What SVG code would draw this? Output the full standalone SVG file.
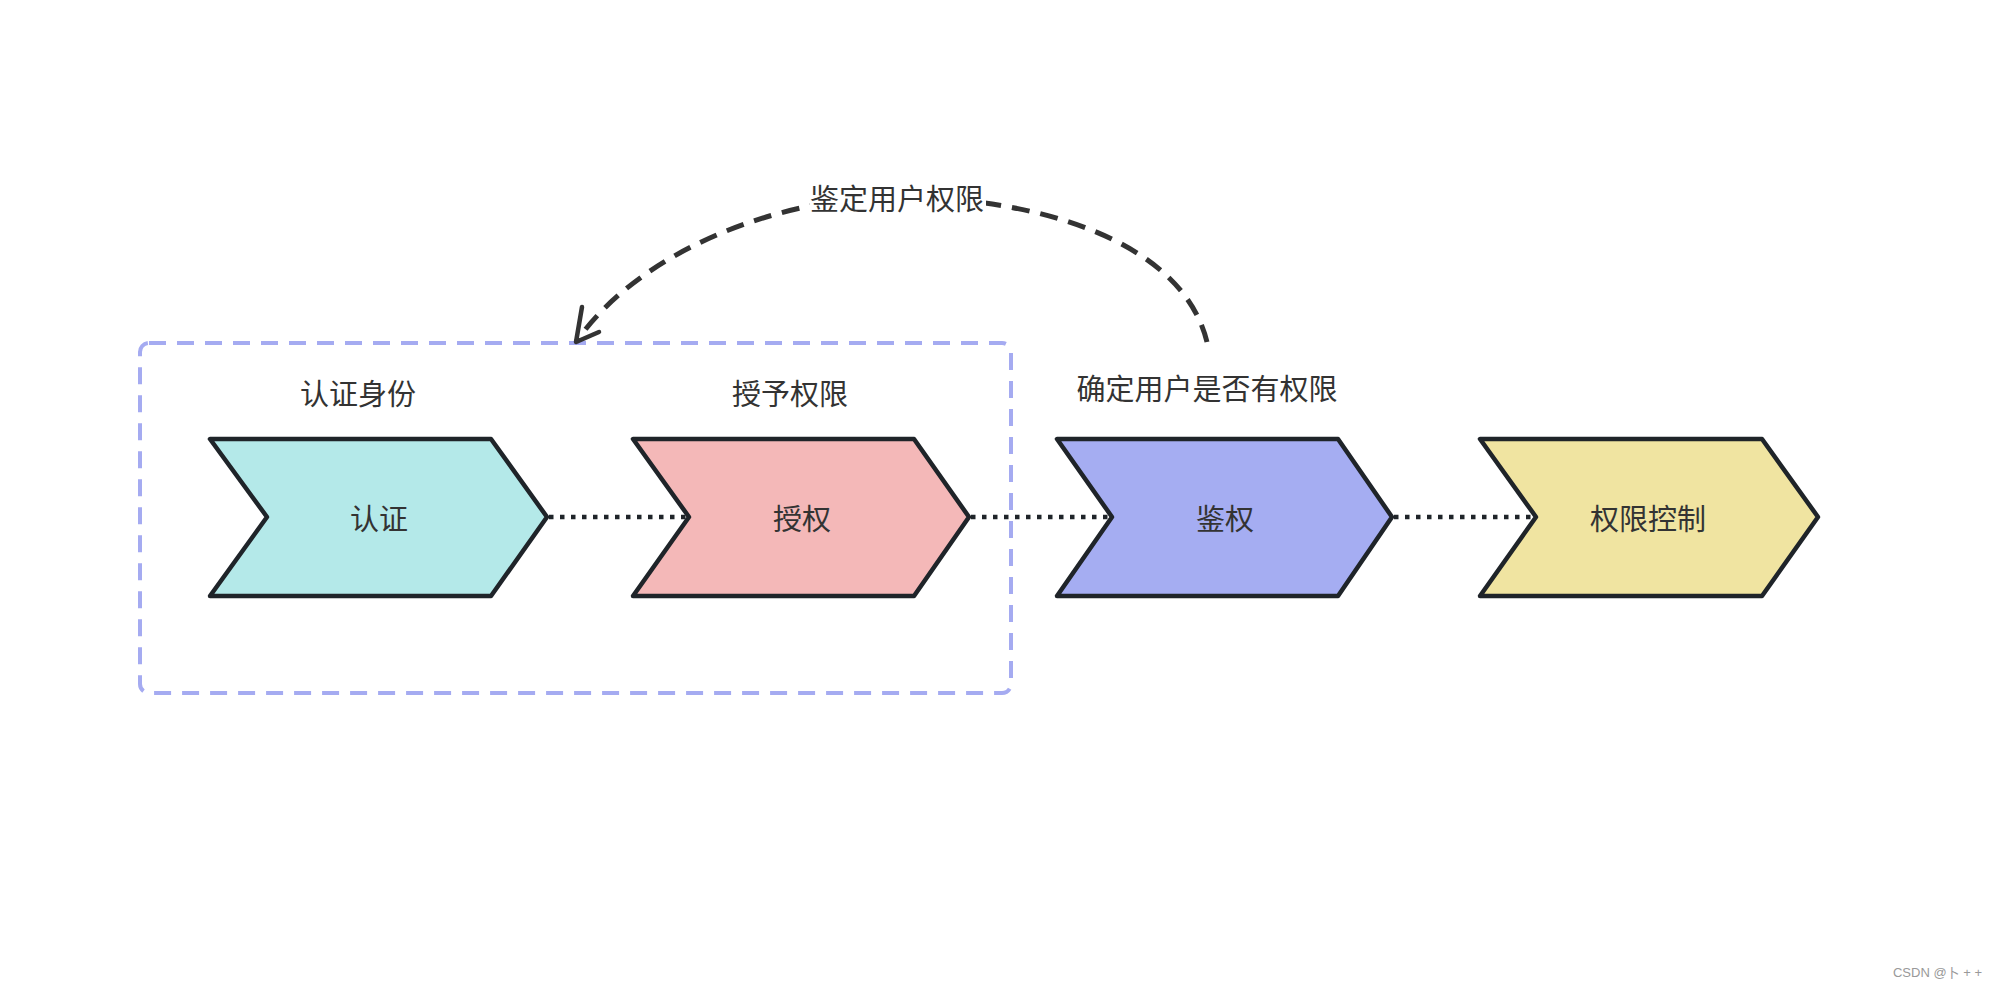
<svg xmlns="http://www.w3.org/2000/svg" width="2000" height="987" viewBox="0 0 2000 987">
<style>
.chev{stroke:#1f2429;stroke-width:4.5;stroke-linejoin:round}
.lbl{font-family:"Noto Sans CJK SC","Liberation Sans",sans-serif;font-size:29px;fill:#333;text-anchor:middle;dominant-baseline:central}
.dot{stroke:#1f2429;stroke-width:4.5;stroke-dasharray:4.5 6.5;fill:none}
.arc{stroke:#333;stroke-width:5;stroke-dasharray:18 11;fill:none}
</style>
<rect width="2000" height="987" fill="#ffffff"/>
<g id="group-box">
<rect x="140" y="343" width="871" height="350" rx="9" fill="none" stroke="#a5abf1" stroke-width="4" stroke-dasharray="17 11"/>
</g>
<g id="connectors">
<line class="dot" x1="549" y1="517" x2="689" y2="517"/>
<line class="dot" x1="971" y1="517" x2="1112" y2="517"/>
<line class="dot" x1="1394" y1="517" x2="1536" y2="517"/>
<path class="arc" d="M1207,342 C1182,240 1035,197 897,197 C780,197 640,250 576,342"/>
<path d="M582,307 L576,342 L599,332" fill="none" stroke="#333" stroke-width="4.5" stroke-linecap="round" stroke-linejoin="round"/>
<rect x="810" y="180" width="176" height="36" fill="#ffffff"/>
<text class="lbl" x="897" y="197">鉴定用户权限</text>
</g>
<g id="node-auth">
<polygon class="chev" fill="#b4e9e9" points="210,439 491,439 547,517 491,596 210,596 267,517"/>
<text class="lbl" x="379" y="517">认证</text>
<text class="lbl" x="358" y="392">认证身份</text>
</g>
<g id="node-grant">
<polygon class="chev" fill="#f4b8b8" points="633,439 914,439 969,517 914,596 633,596 689,517"/>
<text class="lbl" x="802" y="517">授权</text>
<text class="lbl" x="790" y="392">授予权限</text>
</g>
<g id="node-check">
<polygon class="chev" fill="#a5adf2" points="1057,439 1338,439 1392,517 1338,596 1057,596 1112,517"/>
<text class="lbl" x="1225" y="517">鉴权</text>
<text class="lbl" x="1207" y="387">确定用户是否有权限</text>
</g>
<g id="node-control">
<polygon class="chev" fill="#f0e4a1" points="1480,439 1762,439 1818,517 1762,596 1480,596 1536,517"/>
<text class="lbl" x="1648" y="517">权限控制</text>
</g>
<text x="1982" y="972" font-family="'Liberation Sans','Noto Sans CJK SC',sans-serif" font-size="13" fill="#999" text-anchor="end" dominant-baseline="central">CSDN @卜 + +</text>
</svg>
